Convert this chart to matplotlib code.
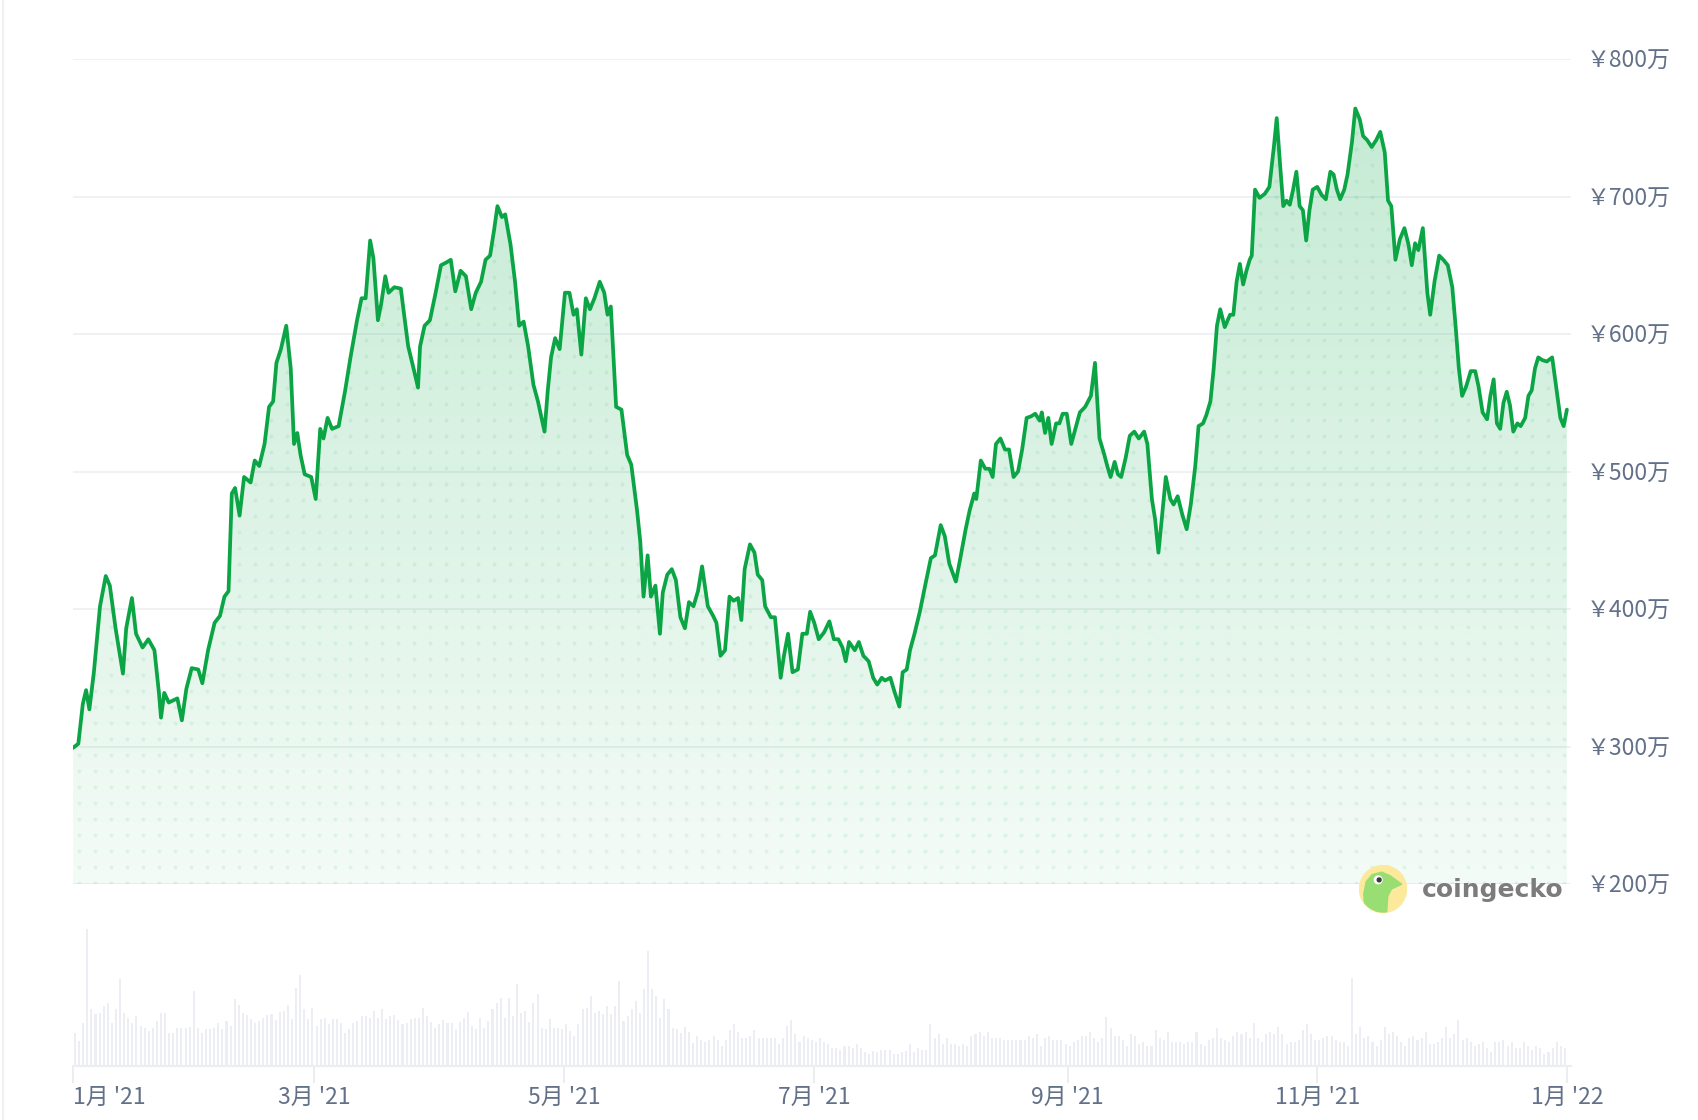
import numpy as np
import pandas as pd
import matplotlib
matplotlib.use("Agg")
import matplotlib.pyplot as plt
from matplotlib.colors import to_rgb
from matplotlib.patches import Circle, Polygon

plt.rcParams['font.family'] = ['Noto Sans CJK JP', 'DejaVu Sans']

# ---- data (price in 万円, day = days since 2021-01-01) ----
start = pd.Timestamp('2021-01-01')

price_day = [
    0.0, 1.3, 2.4, 3.2, 4.0, 5.1, 6.6, 8.0, 9.0, 10.4, 12.2, 13.0, 14.4, 15.4, 17.0, 18.4, 19.9,
    21.0, 21.5, 22.3, 23.4, 25.5, 26.6, 27.7, 29.0, 30.6, 31.6, 33.0, 34.6, 35.9, 37.0, 38.0,
    38.8, 39.6, 40.7, 41.8, 43.4, 44.4, 45.5, 46.8, 47.9, 48.9, 49.7, 50.8, 52.1, 53.2, 54.0,
    54.8, 55.6, 56.6, 58.2, 59.3, 60.4, 61.2, 62.2, 63.3, 64.9, 66.5, 67.8, 69.4, 70.5, 71.5,
    72.6, 73.4, 74.5, 75.3, 76.3, 77.1, 78.5, 80.1, 80.9, 81.9, 83.2, 84.3, 84.8, 85.9, 87.2,
    88.6, 89.9, 91.2, 92.3, 93.4, 94.7, 96.0, 97.3, 98.4, 99.7, 100.8, 101.9, 102.9, 103.7,
    104.8, 105.6, 106.9, 108.0, 109.0, 110.1, 111.2, 112.5, 113.6, 115.2, 116.0, 116.8, 117.8,
    118.9, 120.2, 121.3, 122.3, 123.1, 124.2, 125.3, 126.3, 127.4, 128.7, 129.8, 130.6, 131.4,
    132.7, 134.0, 135.4, 136.4, 137.8, 138.6, 139.4, 140.4, 141.2, 142.3, 143.4, 144.1, 145.2,
    146.3, 147.3, 148.4, 149.5, 150.5, 151.6, 152.7, 153.7, 155.1, 156.4, 157.2, 158.2, 159.3,
    160.4, 161.4, 162.5, 163.3, 164.1, 165.4, 166.5, 167.3, 168.4, 169.1, 170.5, 171.5, 172.9,
    173.7, 174.7, 175.8, 177.1, 178.2, 179.3, 180.1, 181.1, 182.2, 183.5, 184.8, 185.9, 187.0,
    188.0, 188.8, 189.6, 191.0, 192.0, 193.1, 194.4, 195.5, 196.5, 197.6, 198.4, 199.7, 200.8,
    201.9, 202.7, 203.7, 204.5, 205.6, 206.9, 208.2, 209.6, 210.6, 212.0, 213.0, 214.1, 215.7,
    216.8, 218.1, 219.1, 220.2, 220.7, 221.8, 222.9, 223.9, 224.7, 225.5, 226.6, 227.7, 228.7,
    229.8, 230.9, 231.9, 233.0, 234.0, 235.1, 236.2, 236.7, 237.5, 238.3, 239.1, 240.2, 241.0,
    241.8, 242.8, 243.9, 244.9, 246.0, 247.3, 248.7, 249.7, 250.8, 251.9, 252.7, 253.5, 254.5,
    255.3, 256.1, 257.2, 258.2, 259.3, 260.4, 261.7, 262.5, 263.6, 264.4, 265.2, 266.0, 267.0,
    268.1, 268.9, 269.9, 271.0, 272.1, 273.1, 274.2, 275.0, 276.1, 276.9, 277.9, 278.7, 279.5,
    280.3, 281.4, 282.7, 283.5, 284.3, 285.1, 285.9, 286.7, 287.5, 288.0, 288.8, 289.9, 291.2,
    292.3, 293.4, 294.1, 294.9, 295.7, 296.5, 297.3, 298.1, 298.9, 299.7, 300.5, 301.3, 302.1,
    302.9, 304.0, 305.1, 306.1, 307.2, 308.0, 308.8, 309.6, 310.6, 311.4, 312.5, 313.3, 314.4,
    315.2, 316.2, 317.3, 318.4, 319.4, 320.5, 321.3, 322.1, 323.1, 324.2, 325.3, 326.3, 327.1,
    327.9, 328.7, 329.8, 330.9, 331.6, 332.7, 333.8, 334.8, 335.9, 337.0, 337.8, 338.6, 339.4,
    340.4, 341.5, 342.6, 343.4, 344.4, 345.5, 346.3, 347.1, 347.9, 348.7, 349.5, 350.3, 351.1,
    351.9, 352.9, 353.7, 354.8, 355.6, 356.4, 357.2, 358.0, 359.0, 360.1, 361.4, 362.5, 363.4,
    364.2, 365.0,
]

price_val = [
    299, 302, 331, 341, 327, 354, 402, 424, 417, 386, 353, 386, 408, 382, 372, 378, 370,
    339, 321, 339, 332, 335, 319, 342, 357, 356, 346, 370, 390, 395, 409, 413,
    484, 488, 468, 496, 492, 508, 504, 520, 547, 551, 579, 589, 606, 575, 520,
    528, 512, 498, 496, 480, 531, 524, 539, 531, 533, 559, 583, 610, 626, 626,
    668, 655, 610, 622, 642, 630, 634, 633, 614, 591, 575, 561, 591, 606, 610,
    630, 650, 652, 654, 631, 646, 642, 618, 630, 638, 654, 657, 676, 693,
    685, 687, 665, 638, 606, 609, 591, 563, 551, 529, 559, 583, 597,
    589, 630, 630, 614, 618, 585, 626, 618, 626, 638, 630, 614, 620,
    547, 545, 512, 505, 472, 449, 409, 439, 409, 417, 382, 412, 425,
    429, 421, 394, 386, 405, 402, 413, 431, 402, 395, 390, 366, 370,
    409, 406, 408, 392, 429, 447, 441, 425, 421, 402, 394, 394, 350,
    366, 382, 354, 356, 382, 382, 398, 390, 378, 383, 391, 378, 378,
    372, 362, 376, 370, 376, 366, 362, 350, 345, 350, 348, 350, 339,
    329, 354, 356, 370, 382, 398, 417, 437, 439, 461, 453, 433, 420,
    437, 458, 472, 484, 480, 508, 502, 502, 496, 520, 524, 516, 516,
    496, 500, 516, 539, 540, 542, 537, 543, 528, 539, 520, 535, 535,
    542, 542, 520, 531, 543, 547, 555, 579, 524, 513, 504, 496, 507,
    498, 496, 510, 526, 529, 524, 529, 520, 480, 465, 441, 465, 496,
    480, 476, 482, 469, 458, 476, 504, 533, 535, 541, 551, 575, 606,
    618, 605, 614, 614, 638, 651, 636, 646, 654, 657, 705, 699, 702,
    707, 736, 757, 724, 693, 697, 694, 705, 718, 693, 690, 668, 690,
    705, 707, 701, 698, 718, 716, 705, 698, 705, 716, 740, 764, 756,
    744, 741, 736, 741, 747, 732, 697, 693, 654, 669, 677, 665, 650,
    666, 661, 677, 630, 614, 639, 657, 654, 650, 634, 606, 575, 555,
    562, 573, 573, 562, 543, 538, 555, 567, 535, 531, 550, 558, 548,
    529, 535, 533, 539, 555, 559, 575, 583, 581, 580, 583, 559, 539,
    533, 545,
]

# daily volume (relative bar heights), 2021-01-01 .. 2021-12-31
volume = [
    33, 25, 43, 137, 57, 52, 53, 60, 63, 43, 57, 87, 53, 48, 43, 50, 40, 38, 35, 38,
    45, 53, 53, 33, 33, 38, 38, 38, 39, 75, 38, 33, 37, 37, 38, 43, 37, 45, 40, 67,
    61, 53, 51, 47, 43, 45, 48, 51, 52, 46, 54, 55, 61, 47, 78, 91, 57, 47, 58, 40,
    47, 48, 42, 47, 47, 43, 33, 37, 43, 45, 50, 50, 48, 55, 48, 57, 47, 50, 51, 46,
    42, 43, 47, 48, 48, 58, 50, 44, 38, 42, 46, 43, 43, 37, 44, 48, 54, 40, 37, 48,
    38, 45, 57, 63, 68, 48, 68, 50, 82, 53, 55, 44, 63, 72, 38, 37, 47, 38, 38, 37,
    42, 35, 30, 42, 57, 58, 70, 53, 55, 52, 60, 52, 60, 85, 45, 50, 57, 65, 53, 77,
    115, 77, 70, 48, 67, 57, 38, 37, 33,
    39, 34, 23, 30, 26, 24, 26, 30, 26, 20, 26, 36, 42, 34, 28, 28, 30, 36, 28, 28,
    28, 28, 28, 22, 28, 40, 46, 32, 24, 30, 28, 26, 24, 28, 24, 22, 18, 18, 16, 20,
    20, 18, 22, 18, 14, 12, 15, 14, 16, 16, 16, 12, 12, 14, 15, 22, 14, 18, 16, 16,
    42, 28, 32, 22, 28, 22, 22, 20, 22, 20, 30, 32, 34, 30, 34, 28, 28, 28, 26, 26,
    26, 26, 26, 26, 30, 28, 32, 20, 28, 30, 26, 26, 26, 22, 20, 24, 26, 30, 30, 34,
    28, 24, 28, 49, 38, 30, 30, 26, 20, 32, 30, 22, 24, 20, 20,
    36, 28, 26, 34, 24, 24, 24, 22, 24, 24, 34, 22, 20, 26, 28, 38, 28, 26, 24, 30,
    34, 32, 34, 28, 43, 28, 24, 32, 34, 32, 39, 32, 22, 24, 24, 26, 36, 42, 32, 26,
    26, 28, 30, 30, 26, 24, 24, 20, 88, 32, 39, 28, 30, 24, 20, 26, 39, 32, 34, 30,
    24, 20, 28, 30, 26, 28, 34, 22, 22, 24, 28, 39, 28, 32, 46, 26, 28, 24, 20, 22,
    24, 18, 14, 24, 24, 26, 20, 24, 18, 18, 24, 20, 16, 20, 18, 12, 14, 18, 24, 20, 18,
]

y_ticks = [200, 300, 400, 500, 600, 700, 800]
tick_dates = ['2021-01-01', '2021-03-01', '2021-05-01', '2021-07-01',
              '2021-09-01', '2021-11-01', '2022-01-01']
tick_labels = ["1月 '21", "3月 '21", "5月 '21", "7月 '21", "9月 '21", "11月 '21", "1月 '22"]

# ---- layout ----
W, H = 1698, 1120
fig = plt.figure(figsize=(W / 100, H / 100), dpi=100)
fig.patch.set_facecolor('white')

x0, x1 = 73, 1571
ax = fig.add_axes([x0 / W, 1 - 884 / H, (x1 - x0) / W, (884 - 59) / H])
vax = fig.add_axes([x0 / W, 1 - 1066 / H, (x1 - x0) / W, 150 / H])

green = '#0ba546'
grid_c = '#eef0f4'
text_c = '#627088'
XMAX = 366

# price panel
ax.set_xlim(0, XMAX)
ax.set_ylim(200, 800)
for s in ax.spines.values():
    s.set_visible(False)
for yv in y_ticks:
    ax.axhline(yv, color=grid_c, lw=1.3, zorder=0)

poly_x = np.concatenate([[price_day[0]], price_day, [price_day[-1]]])
poly_y = np.concatenate([[200], price_val, [200]])
area = Polygon(np.column_stack([poly_x, poly_y]), closed=True,
               facecolor='none', edgecolor='none')
ax.add_patch(area)

grad = np.zeros((256, 1, 4))
grad[..., :3] = to_rgb('#22b35c')
grad[..., 3] = np.linspace(0.28, 0.05, 256)[:, None]
im = ax.imshow(grad, extent=(0, XMAX, 200, 800), aspect='auto',
               origin='upper', zorder=1, interpolation='bilinear')
im.set_clip_path(area)

gx, gy = np.meshgrid(np.arange(1.5, XMAX, 3.9), np.arange(201, 800, 11.6))
dots = ax.scatter(gx.ravel(), gy.ravel(), s=8, color='#22b35c', alpha=0.10,
                  linewidths=0, zorder=2)
dots.set_clip_path(area)

ax.plot(price_day, price_val, color=green, lw=2.7, zorder=3,
        solid_joinstyle='round', solid_capstyle='round')

ax.set_xticks([])
ax.yaxis.tick_right()
ax.set_yticks(y_ticks)
ax.set_yticklabels([f'￥{v}万' for v in y_ticks])
ax.tick_params(axis='y', length=0, pad=11, labelsize=16.5, labelcolor=text_c)

# volume panel
days = np.arange(len(volume))
vax.bar(days + 0.5, volume, width=0.5, color='#eceef3', zorder=1)
vax.set_xlim(0, XMAX)
vax.set_ylim(0, 150)
for s in ['top', 'right', 'left']:
    vax.spines[s].set_visible(False)
vax.spines['bottom'].set_color('#eceef2')
vax.spines['bottom'].set_linewidth(1.6)
vax.set_yticks([])
tick_pos = [(pd.Timestamp(d) - start).days for d in tick_dates]
vax.set_xticks(tick_pos)
vax.set_xticklabels(tick_labels)
vax.tick_params(axis='x', length=12, width=1.2, color='#e8eaef', pad=2,
                labelsize=16.5, labelcolor=text_c)
vax.get_xticklabels()[0].set_ha('left')

# left border of the card
fig.add_artist(plt.Line2D([3 / W, 3 / W], [0, 1], color='#eef0f4', lw=1.5))

# coingecko watermark
lax = fig.add_axes([(1383 - 24) / W, 1 - (889 + 24) / H, 48 / W, 48 / H])
lax.set_xlim(-1, 1)
lax.set_ylim(-1, 1)
lax.set_aspect('equal')
lax.axis('off')
disk = Circle((0, 0), 0.98, color='#fce99c', zorder=1)
lax.add_patch(disk)
head = Polygon([(-0.75, -0.9), (-0.8, -0.2), (-0.7, 0.3), (-0.45, 0.6), (-0.05, 0.7),
                (0.3, 0.55), (0.78, 0.2), (0.35, 0.0), (0.2, -0.3), (0.15, -1.0)],
               closed=True, color='#98de72', zorder=2)
lax.add_patch(head)
head.set_clip_path(disk)
lax.add_patch(Circle((-0.2, 0.38), 0.16, color='white', zorder=3))
lax.add_patch(Circle((-0.16, 0.38), 0.08, color='#3a3a3a', zorder=4))
fig.text(1422 / W, 1 - 890 / H, 'coingecko', fontsize=18, fontweight='bold',
         color='#7c7c7c', va='center', ha='left', family='DejaVu Sans')

fig.savefig('out.png', dpi=100, facecolor='white')
